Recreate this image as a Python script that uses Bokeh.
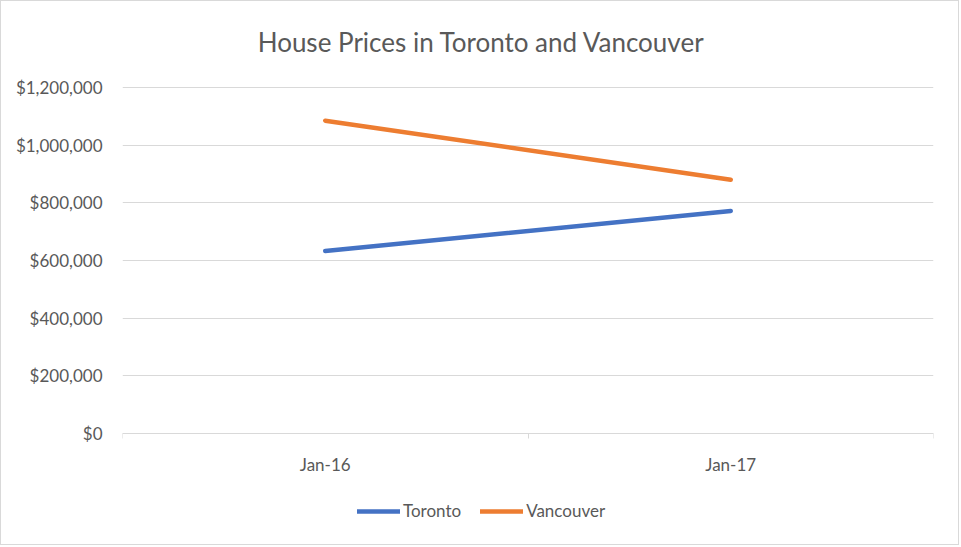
from bokeh.plotting import figure
from bokeh.models import (ColumnDataSource, FixedTicker, LinearAxis, Range1d, Label,
                          Legend, LegendItem, NumeralTickFormatter, Grid)
from bokeh.embed import file_html
from bokeh.resources import INLINE

categories = ["Jan-16", "Jan-17"]
toronto = [633000, 772000]
vancouver = [1085000, 880000]
y_ticks = [0, 200000, 400000, 600000, 800000, 1000000, 1200000]

FONT = "Lato"
GRAY = "#595959"
GRID = "#D9D9D9"

# layout (canvas pixels)
W, H = 959, 545
F_LEFT, F_RIGHT = 121, 932
F_TOP, F_BOTTOM = 1, 544
Y0_PX, YMAX_PX = 432, 86
ymax = y_ticks[-1]
per_px = ymax / (Y0_PX - YMAX_PX)
y_end = ymax + (YMAX_PX - F_TOP) * per_px
y_start = -(F_BOTTOM - Y0_PX) * per_px

xpos = [i + 0.5 for i in range(len(categories))]
src = ColumnDataSource(dict(x=xpos, toronto=toronto, vancouver=vancouver))

p = figure(width=W, height=H, output_backend="svg", toolbar_location=None,
           x_range=Range1d(0, len(categories)), y_range=Range1d(y_start, y_end),
           min_border_left=F_LEFT, min_border_right=W - F_RIGHT,
           min_border_top=F_TOP, min_border_bottom=H - F_BOTTOM,
           x_axis_type=None, y_axis_type=None,
           styles={"border": "1px solid #D9D9D9"})
p.outline_line_color = None
p.background_fill_color = "white"
p.border_fill_color = "white"

yax = LinearAxis(ticker=FixedTicker(ticks=y_ticks),
                 formatter=NumeralTickFormatter(format="$0,0"))
yax.axis_line_color = None
yax.major_tick_line_color = None
yax.minor_tick_line_color = None
yax.major_label_text_font = FONT
yax.major_label_text_font_size = "17px"
yax.major_label_text_color = GRAY
yax.major_label_standoff = 14
p.add_layout(yax, "left")

xax = LinearAxis(ticker=FixedTicker(ticks=list(range(len(categories) + 1))),
                 major_label_overrides={i: " " for i in range(len(categories) + 1)},
                 fixed_location=0)
xax.axis_line_color = GRID
xax.axis_line_width = 1
xax.major_tick_line_color = GRID
xax.major_tick_out = 5
xax.major_tick_in = 0
xax.minor_tick_line_color = None
xax.major_label_text_font_size = "1px"
p.add_layout(xax, "below")

xlab = LinearAxis(ticker=FixedTicker(ticks=xpos),
                  major_label_overrides={x: c for x, c in zip(xpos, categories)},
                  fixed_location=0)
xlab.axis_line_color = None
xlab.major_tick_line_color = None
xlab.minor_tick_line_color = None
xlab.major_label_text_font = FONT
xlab.major_label_text_font_size = "17px"
xlab.major_label_text_color = GRAY
xlab.major_label_standoff = 14
p.add_layout(xlab, "below")

p.add_layout(Grid(dimension=1, ticker=FixedTicker(ticks=y_ticks), grid_line_color=GRID))

r1 = p.line("x", "toronto", source=src, line_color="#4472C4", line_width=4.5, line_cap="round")
r2 = p.line("x", "vancouver", source=src, line_color="#ED7D31", line_width=4.5, line_cap="round")

legend = Legend(items=[LegendItem(label="Toronto", renderers=[r1]),
                       LegendItem(label="Vancouver", renderers=[r2])],
                orientation="horizontal", location=(235, 24),
                label_text_font=FONT, label_text_font_size="17px", label_text_color=GRAY,
                glyph_width=43, glyph_height=14, spacing=19, padding=0, margin=0,
                label_standoff=3, border_line_color=None, background_fill_alpha=0)
p.add_layout(legend, "center")

title = Label(x=359, y=504, x_units="screen", y_units="screen",
              text="House Prices in Toronto and Vancouver", text_font=FONT,
              text_font_size="26px", text_color=GRAY, text_align="center",
              text_baseline="middle")
p.add_layout(title)

open("out.html", "w").write(file_html(p, INLINE))
